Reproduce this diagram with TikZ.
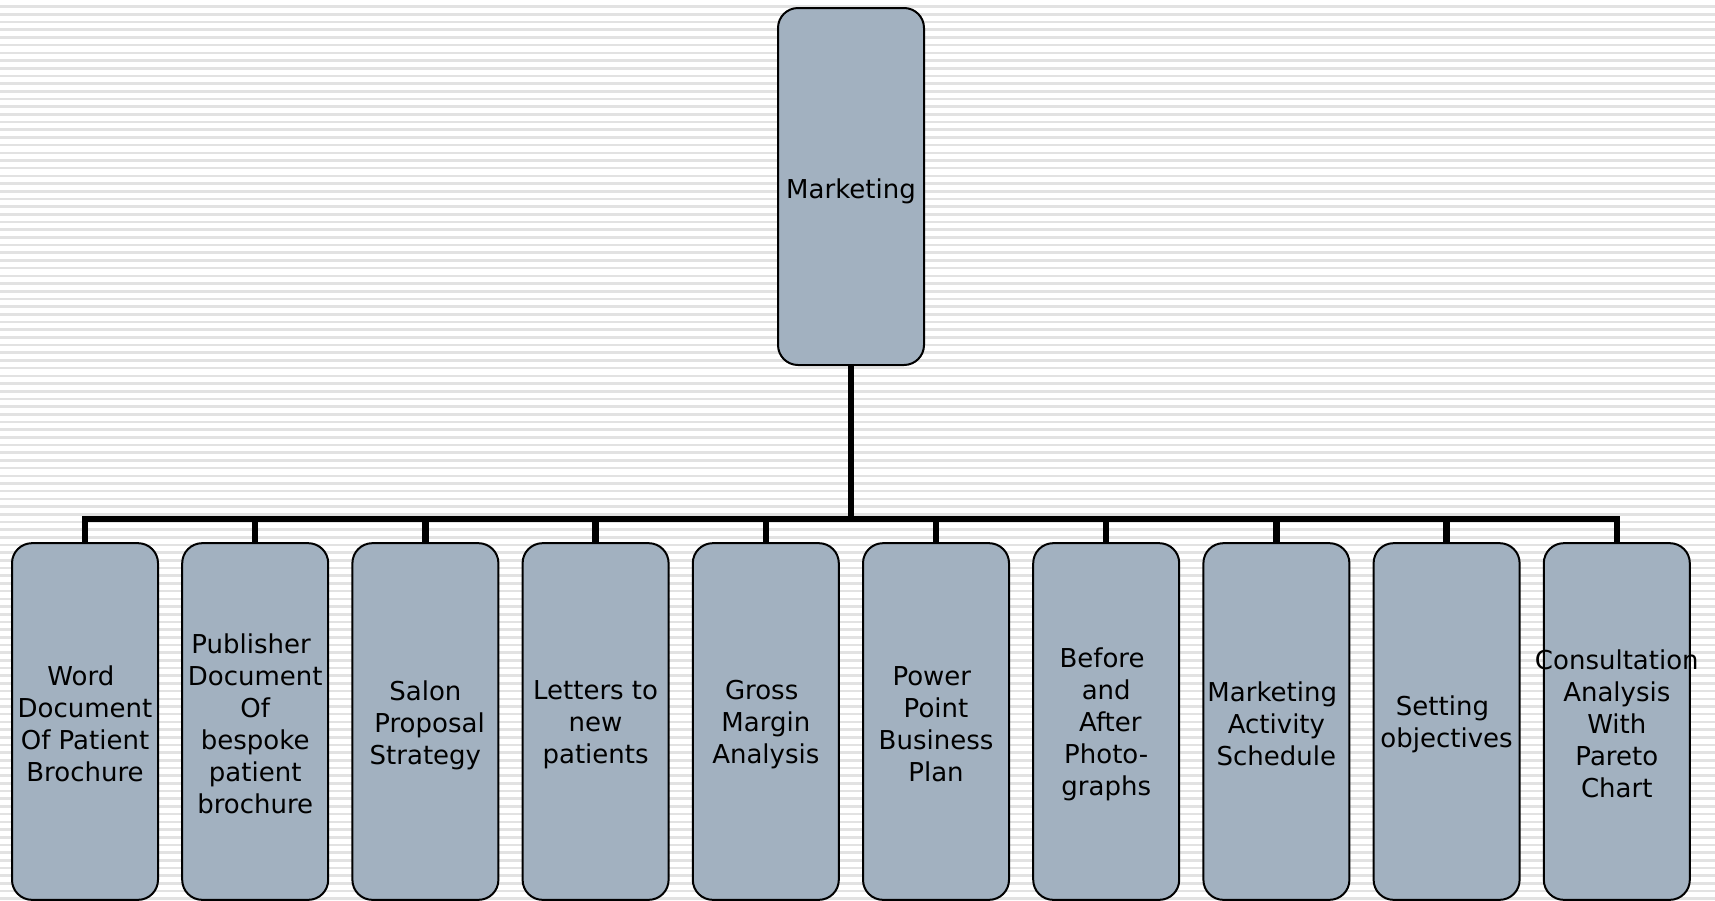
\documentclass[tikz,border=0pt]{standalone}
\usepackage{fontspec}
\setmainfont{DejaVu Sans}
\newcommand\tsp{\hspace*{0.32em}}
\definecolor{boxfill}{RGB}{162,177,192}
\definecolor{stripecol}{RGB}{226,226,226}
\tikzset{
  box/.style={draw=black, line width=1.5pt, fill=boxfill, rounded corners=15pt,
    minimum width=109.5pt, minimum height=267.5pt, inner sep=0pt},
  topbox/.style={box, minimum height=267.75pt},
  boxtext/.style={align=center, inner sep=0pt, text=black,
    font=\fontsize{19.5pt}{24pt}\selectfont},
  conn/.style={draw=black, line width=4.8pt, line join=miter}
}
\begin{document}
\begin{tikzpicture}[x=0.75pt, y=-0.75pt]
\useasboundingbox (0,0) rectangle (1715,900);
\fill[white] (0,0) rectangle (1715,900);
\foreach \i in {0,...,117} {
  \fill[stripecol] (0,{5.4+7.69*\i}) rectangle (1715,{8.0+7.69*\i});
}
% top node
\node[topbox] (top) at (851,186.5) {};
\node[boxtext] (toplabel) at ([yshift=-3.3pt]top) {Marketing};
% bottom boxes
\foreach \i in {0,...,9} {
  \node[box] (b\i) at ({85+170.2*\i},721.5) {};
}
\coordinate (bus) at (851,519);
% connectors
\foreach \i in {0,...,9} {
  \draw[conn] (top.south) -- (top.south |- bus) -| (b\i.north);
}
% labels
\node[boxtext] (t0) at ([yshift=-2.0pt]b0) {Word\tsp\\Document\tsp\\Of Patient\\Brochure};
\node[boxtext] (t1) at ([yshift=-2.0pt]b1) {Publisher\tsp\\Document\\Of\tsp\\bespoke\tsp\\patient\\brochure};
\node[boxtext] (t2) at ([yshift=-2.6pt]b2) {Salon\\\tsp Proposal\\Strategy};
\node[boxtext] (t3) at ([yshift=-2.6pt]b3) {Letters to\\new\\patients};
\node[boxtext] (t4) at ([yshift=-2.6pt]b4) {Gross\tsp\\Margin\\Analysis};
\node[boxtext] (t5) at ([yshift=-2.0pt]b5) {Power\tsp\\Point\tsp\\Business\tsp\\Plan};
\node[boxtext] (t6) at ([yshift=-2.0pt]b6) {Before\tsp\\and\\\tsp After\\Photo-\\graphs};
\node[boxtext] (t7) at ([yshift=-2.0pt]b7) {Marketing\tsp\\Activity\tsp\\Schedule};
\node[boxtext] (t8) at ([yshift=-2.0pt]b8) {Setting\tsp\\objectives};
\node[boxtext] (t9) at ([yshift=-2.0pt]b9) {Consultation\\Analysis\\With\tsp\\Pareto\tsp\\Chart};
\end{tikzpicture}
\end{document}
